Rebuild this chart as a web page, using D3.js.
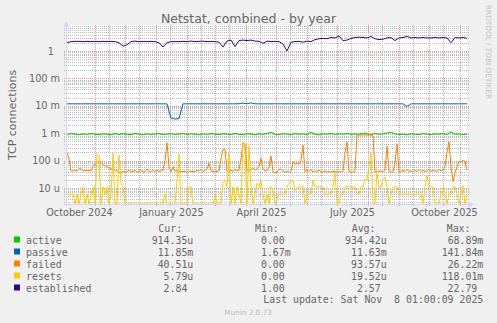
<!DOCTYPE html>
<html>
<head>
<meta charset="utf-8">
<script src="https://cdn.jsdelivr.net/npm/d3@7"></script>
<style>
  body { margin: 0; background: #f0f0f0; }
  svg { display: block; }
  text { font-family: "DejaVu Sans", sans-serif; fill: #666; }
  .mono { font-family: "DejaVu Sans Mono", monospace; white-space: pre; }
</style>
</head>
<body>
<script>
// values (one point every 4 or 2 days)
const seriesNames = ["active", "passive", "failed", "resets", "established"];
const seriesColors = ["#00cc00", "#0066b3", "#ff8000", "#ffcc00", "#330099"];

// 4-day samples
const activeM = [
  0.90,0.97,0.92,0.87,0.95,0.90,0.98,0.92,0.88,0.95,
  0.93,0.87,0.97,0.90,0.95,0.92,0.88,0.98,0.93,0.87,
  0.95,0.90,0.93,0.98,0.89,0.93,0.96,0.90,0.93,0.98,
  0.90,0.95,0.92,0.87,0.96,0.90,0.98,0.93,0.89,0.95,
  0.93,0.89,0.98,0.92,0.89,0.96,0.93,0.87,0.95,0.92,
  0.97,1.08,0.92,0.89,0.96,0.93,0.88,0.98,0.92,0.95,
  0.90,1.07,0.93,0.87,0.95,0.92,0.98,0.90,0.96,0.92,
  0.98,0.90,0.95,0.92,1.00,0.95,0.89,0.98,0.92,0.95,
  1.02,1.10,0.95,0.89,0.93,0.87,0.95,0.92,0.89,0.97,
  0.93,0.89,0.95,0.92,0.98,0.90,1.12,0.92,0.95,0.90,
  0.91];
const passiveM = [
  11.8,11.8,11.8,11.8,11.8,11.8,11.8,11.8,11.8,11.8,
  11.8,11.8,11.8,11.8,11.8,11.8,11.8,11.8,11.8,11.8,
  11.8,11.8,11.8,11.8,11.8,11.7,3.5,3.3,3.4,11.8,
  11.8,11.8,11.8,11.8,11.8,11.8,11.8,11.8,11.8,11.8,
  11.8,11.8,11.8,11.9,12.6,11.8,12.8,11.8,11.8,11.8,
  11.8,11.8,11.8,11.8,11.8,11.8,11.8,11.8,11.8,11.8,
  11.8,11.8,11.8,11.8,11.8,11.8,11.8,11.8,11.8,11.8,
  11.8,11.8,11.8,11.8,11.8,11.8,11.8,11.8,11.8,11.8,
  11.8,11.8,11.8,11.8,11.8,9.5,11.8,11.8,11.8,11.8,
  11.8,11.8,11.8,11.8,11.8,11.8,11.8,11.8,11.8,11.8,
  11.85];
const established = [
  2.0,2.2,2.25,2.25,2.2,2.25,2.2,2.25,2.2,2.25,
  2.2,2.25,2.2,2.0,1.5,1.7,2.2,2.3,2.2,2.25,
  2.2,2.25,2.2,2.0,1.4,2.0,2.2,2.2,2.2,2.25,
  2.2,2.3,2.2,2.25,2.3,2.2,2.25,2.2,2.1,1.4,
  2.3,2.5,1.45,2.4,2.5,2.4,2.5,2.3,2.25,1.9,
  2.3,2.2,2.25,2.2,1.8,1.0,2.1,2.2,2.25,2.1,
  2.3,2.2,2.6,2.8,2.9,2.8,3.1,3.0,3.5,2.4,
  2.5,2.9,3.1,3.2,3.1,3.0,3.4,2.8,2.6,2.7,
  3.0,3.1,2.4,3.0,3.1,3.4,3.0,3.1,3.0,3.1,
  3.0,3.0,3.1,3.0,3.1,3.0,2.0,3.1,3.0,3.1,
  2.9];

// 2-day samples
const failedU = [
  200,120,42,42,45,42,51,50,43,43,
  43,43,43,60,78,80,95,85,70,65,
  60,55,50,48,45,42,36,36,40,38,
  40,45,38,40,44,38,40,46,38,40,
  50,40,38,44,40,45,40,42,45,100,
  450,60,40,60,40,44,38,40,40,40,
  38,42,40,40,40,45,40,48,40,45,
  50,80,42,40,40,40,42,120,255,250,
  42,40,45,40,50,42,45,120,450,400,
  45,42,48,55,45,50,60,120,50,42,
  45,55,150,38,36,38,48,48,40,38,
  40,38,40,90,75,80,75,100,370,38,
  45,40,48,38,42,40,45,38,40,42,
  38,40,38,40,40,38,40,38,40,200,
  490,40,38,38,40,860,860,860,860,860,
  860,860,860,800,38,42,40,42,40,45,
  340,40,38,38,80,420,38,40,45,40,
  48,40,42,38,45,40,48,40,45,40,
  42,48,40,45,42,40,48,42,45,60,
  200,490,60,17,36,60,95,90,100,95,
  45];
const resetsU = [
  6,6,6,6,0,6,0,6,11,0,
  6,0,6,11,0,180,150,0,11,6,
  11,0,6,190,0,0,160,15,11,0,
  0,0,0,0,0,0,0,0,0,0,
  0,0,0,0,0,0,0,0,0,6,
  0,0,0,0,0,18,180,0,0,0,
  0,11,11,0,0,0,0,0,0,0,
  0,0,0,0,6,0,0,0,17,17,
  11,190,0,11,0,11,6,0,490,300,
  0,350,11,0,6,15,11,18,6,0,
  6,0,11,8,0,4,6,6,6,6,
  11,15,19,19,8,10,11,11,11,0,
  6,6,6,19,11,11,11,11,11,6,
  6,6,6,11,36,0,0,6,6,11,
  11,11,11,11,11,6,6,11,11,22,
  19,60,190,0,0,36,11,11,20,25,
  11,0,6,11,11,11,6,6,6,6,
  6,6,6,6,6,6,6,6,0,11,
  30,11,11,11,0,0,0,6,11,6,
  0,6,6,11,11,6,0,6,12,0,
  6];

const yTickValues = [1e-5, 1e-4, 1e-3, 1e-2, 1e-1, 1];
const yTickLabels = ["10 u", "100 u", "1 m", "10 m", "100 m", "1  "];
const xLabels = ["October 2024", "January 2025", "April 2025", "July 2025", "October 2025"];
const xLabelMonths = [[2024, 9], [2025, 0], [2025, 3], [2025, 6], [2025, 9]];

const curVals = ["914.35u", "11.85m", "40.51u", "5.79u", "2.84"];
const minVals = ["0.00", "1.67m", "0.00", "0.00", "1.00"];
const avgVals = ["934.42u", "11.63m", "93.57u", "19.52u", "2.57"];
const maxVals = ["68.89m", "141.84m", "26.22m", "118.01m", "22.79"];
const colHeads = ["Cur:", "Min:", "Avg:", "Max:"];

(() => {
  const W = 497, H = 323;
  const pLeft = 67, pRight = 467, pTop = 25, pBottom = 204;

  const end = new Date(Date.UTC(2025, 10, 8, 1));
  const start = d3.utcDay.offset(end, -400);

  const x = d3.scaleUtc().domain([start, end]).range([pLeft, pRight]);
  const y = d3.scaleLog().domain([2.61e-6, 8.89]).range([pBottom, pTop]);

  const svg = d3.create("svg")
    .attr("width", W)
    .attr("height", H)
    .attr("viewBox", [0, 0, W, H]);

  svg.append("rect").attr("width", W).attr("height", H).attr("fill", "#f0f0f0");
  svg.append("rect")
    .attr("x", pLeft).attr("y", pTop)
    .attr("width", pRight - pLeft).attr("height", pBottom - pTop)
    .attr("fill", "#fff");

  // horizontal grid
  const minorY = [];
  for (let e = -6; e <= 0; e++) {
    for (let k = 2; k <= 9; k++) {
      const v = k * Math.pow(10, e);
      if (v >= y.domain()[0] && v <= y.domain()[1]) minorY.push(v);
    }
  }
  const minorCol = "#bcbcbc", majorCol = "#e49a9a";
  const grid = svg.append("g").attr("shape-rendering", "crispEdges");
  grid.append("g").selectAll("line").data(minorY).join("line")
    .attr("x1", pLeft - 3).attr("x2", pRight + 2)
    .attr("y1", d => Math.round(y(d)) + 0.5).attr("y2", d => Math.round(y(d)) + 0.5)
    .attr("stroke", minorCol).attr("stroke-dasharray", "1,1");

  // vertical grid: months (major) and mid-month (minor)
  const months = d3.utcMonth.range(start, end);
  const mids = months.map(m => d3.utcDay.offset(m, 14)).filter(d => d > start && d < end);
  grid.append("g").selectAll("line").data(mids).join("line")
    .attr("x1", d => Math.round(x(d)) + 0.5).attr("x2", d => Math.round(x(d)) + 0.5)
    .attr("y1", pTop).attr("y2", pBottom + 2)
    .attr("stroke", minorCol).attr("stroke-dasharray", "1,1");
  grid.append("g").selectAll("line").data(yTickValues).join("line")
    .attr("x1", pLeft - 3).attr("x2", pRight + 2)
    .attr("y1", d => Math.round(y(d)) + 0.5).attr("y2", d => Math.round(y(d)) + 0.5)
    .attr("stroke", majorCol).attr("stroke-dasharray", "1,1");
  grid.append("g").selectAll("line").data(months.filter(d => d > start)).join("line")
    .attr("x1", d => Math.round(x(d)) + 0.5).attr("x2", d => Math.round(x(d)) + 0.5)
    .attr("y1", pTop).attr("y2", pBottom + 2)
    .attr("stroke", majorCol).attr("stroke-dasharray", "1,1");

  // series
  svg.append("clipPath").attr("id", "plot")
    .append("rect").attr("x", pLeft).attr("y", pTop - 1)
    .attr("width", pRight - pLeft + 1).attr("height", pBottom - pTop + 1);

  const series = [
    {vals: activeM, step: 4, unit: 1e-3},
    {vals: passiveM, step: 4, unit: 1e-3},
    {vals: failedU, step: 2, unit: 1e-6},
    {vals: resetsU, step: 2, unit: 1e-6},
    {vals: established, step: 4, unit: 1}
  ];
  const yMin = y.domain()[0];
  const line = d3.line()
    .x(d => x(d[0]))
    .y(d => y(Math.max(d[1], yMin)));

  svg.append("g").attr("clip-path", "url(#plot)")
    .selectAll("path").data(series).join("path")
    .attr("fill", "none")
    .attr("stroke", (d, i) => seriesColors[i])
    .attr("stroke-width", 1)
    .attr("d", s => line(s.vals.map((v, i) => [d3.utcDay.offset(start, i * s.step), v * s.unit])));

  // axes
  const axisCol = "#cfd6f8";
  svg.append("line").attr("x1", pLeft - 0.5).attr("x2", pLeft - 0.5)
    .attr("y1", pBottom + 2).attr("y2", pTop - 1).attr("stroke", axisCol);
  svg.append("path").attr("d", `M${pLeft - 0.5},21 L${pLeft - 3.5},27 L${pLeft + 2.5},27 Z`).attr("fill", axisCol);
  svg.append("line").attr("x1", pLeft - 3).attr("x2", pRight + 2)
    .attr("y1", pBottom + 0.5).attr("y2", pBottom + 0.5).attr("stroke", axisCol);
  svg.append("path").attr("d", `M${pRight + 7},${pBottom + 0.5} L${pRight + 1},${pBottom - 2.5} L${pRight + 1},${pBottom + 3.5} Z`).attr("fill", axisCol);

  const yAxis = svg.append("g")
    .attr("transform", `translate(${pLeft},0)`)
    .call(d3.axisLeft(y).tickValues(yTickValues).tickFormat((d, i) => yTickLabels[i]).tickSize(0).tickPadding(7));
  yAxis.select(".domain").remove();
  yAxis.selectAll("text").attr("fill", "#666").attr("font-size", 9.7).style("white-space", "pre")
    .attr("font-family", "DejaVu Sans");

  const xAxis = svg.append("g")
    .attr("transform", `translate(0,${pBottom})`)
    .call(d3.axisBottom(x)
      .tickValues(xLabelMonths.map(([yy, mm]) => new Date(Date.UTC(yy, mm, 16))))
      .tickFormat((d, i) => xLabels[i]).tickSize(0).tickPadding(5));
  xAxis.select(".domain").remove();
  xAxis.selectAll("text").attr("fill", "#666").attr("font-size", 9.7).attr("font-family", "DejaVu Sans");

  // titles
  svg.append("text").attr("x", 248.5).attr("y", 23).attr("text-anchor", "middle")
    .attr("font-size", 12.5).text("Netstat, combined - by year");
  svg.append("text").attr("transform", "translate(15.5,115) rotate(-90)")
    .attr("text-anchor", "middle").attr("font-size", 11).text("TCP connections");
  svg.append("text").attr("transform", "translate(486,5) rotate(90)")
    .attr("font-size", 7.3).style("fill", "#c4c4c4")
    .text("RRDTOOL / TOBI OETIKER");

  // legend
  const cw = 5.96;
  const colEnds = [193.3, 290.7, 386.7, 483.3];
  const headX = [158.3, 255, 351.7, 446.7];
  const leg = svg.append("g").attr("font-size", 9.9);
  leg.selectAll(".head").data(colHeads).join("text")
    .attr("class", "mono").attr("x", (d, i) => headX[i]).attr("y", 231.5).text(d => d);

  const rows = leg.selectAll(".row").data(seriesNames).join("g")
    .attr("transform", (d, i) => `translate(0,${243.5 + i * 12})`);
  rows.append("rect").attr("x", 14).attr("y", -7).attr("width", 6).attr("height", 6)
    .attr("fill", (d, i) => seriesColors[i]);
  rows.append("text").attr("class", "mono").attr("x", 26).text(d => d);
  [curVals, minVals, avgVals, maxVals].forEach((col, c) => {
    rows.append("text").attr("class", "mono")
      .attr("text-anchor", "end")
      .attr("x", (d, i) => colEnds[c] - (/[a-z]$/i.test(col[i]) ? 0 : cw))
      .text((d, i) => col[i]);
  });
  leg.append("text").attr("class", "mono").attr("x", 483.3).attr("y", 303)
    .attr("text-anchor", "end").text("Last update: Sat Nov  8 01:00:09 2025");

  svg.append("text").attr("x", 248).attr("y", 315).attr("text-anchor", "middle")
    .attr("font-size", 7.3).style("fill", "#bdbdbd").text("Munin 2.0.73");

  d3.select("body").append(() => svg.node());
})();
</script>
</body>
</html>
